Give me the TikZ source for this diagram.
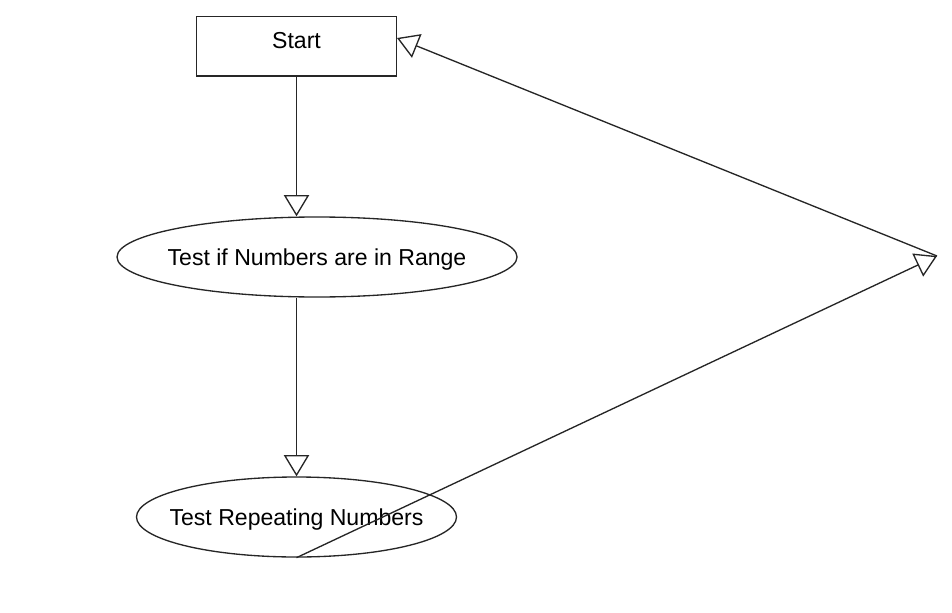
\documentclass[tikz,border=0pt]{standalone}
\usepackage{fontspec}
\setmainfont{Liberation Sans}
\usetikzlibrary{arrows.meta,shapes.geometric}
\tikzset{
  box/.style={draw=black!85, line width=1pt, rectangle, minimum width=150pt, minimum height=44.5pt, inner sep=0pt, font=\fontsize{17.3}{20}\selectfont, text height=12.4pt, text depth=9pt},
  oval/.style={draw=black!85, line width=1pt, ellipse, inner sep=0pt, font=\fontsize{17.3}{20}\selectfont, text height=12.4pt, text depth=0pt},
  flow/.style={draw=black!85, line width=1pt, -{Triangle[open, length=16pt, width=19pt]}},
}
\begin{document}
\begin{tikzpicture}[x=0.75pt, y=-0.75pt]
\useasboundingbox (0,0) rectangle (952,613);
\node[box] (start) at (296.5,46.3) {Start};
\node[oval, minimum width=300pt, minimum height=60pt] (range) at (317,257) {\makebox[0pt]{Test if Numbers are in Range}};
\node[oval, minimum width=240pt, minimum height=60pt] (rep) at (296.5,517) {\makebox[0pt]{Test Repeating Numbers}};
\coordinate (turn) at (937,256);
\coordinate (back) at (397,38);
\draw[flow] (start.south) -- (start.south |- range.north);
\draw[flow] (rep.north |- range.south) -- (rep.north);
\draw[flow] (rep.south) -- (turn);
\draw[flow] (turn) -- (back);
\end{tikzpicture}
\end{document}
